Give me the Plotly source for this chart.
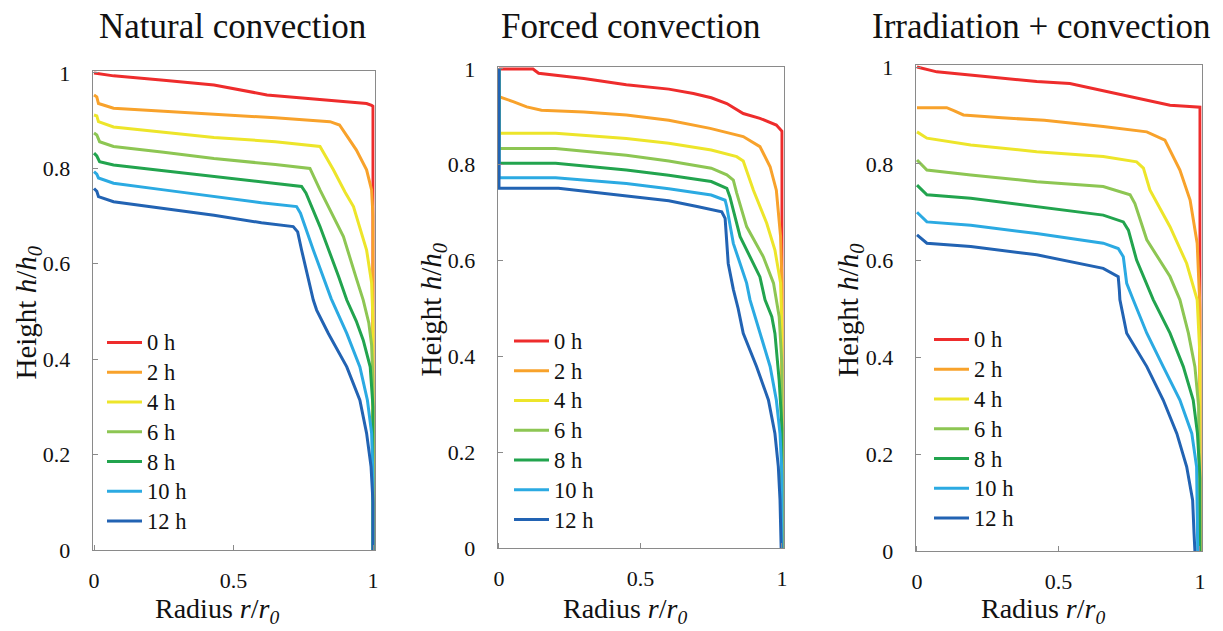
import plotly.graph_objects as go

W, H = 1223, 631
FONT = "Liberation Serif"

labels = ["0 h", "2 h", "4 h", "6 h", "8 h", "10 h", "12 h"]
colors = ["#EE2C2C", "#F8A22B", "#EDE52A", "#8DC653", "#22A44E", "#2BAAE2", "#2263B3"]

# ---------------- Natural convection ----------------
nat_r_0 = [0, 0.07, 0.25, 0.43, 0.62, 0.8, 0.977, 0.995, 1.0, 1.0]
nat_h_0 = [1.0, 0.994, 0.985, 0.975, 0.954, 0.945, 0.936, 0.932, 0.93, 0.0]
nat_r_2 = [0, 0.01, 0.016, 0.07, 0.25, 0.43, 0.65, 0.846, 0.88, 0.91, 0.94, 0.977, 0.995, 1.0, 1.0]
nat_h_2 = [0.954, 0.95, 0.936, 0.926, 0.92, 0.914, 0.906, 0.898, 0.891, 0.865, 0.839, 0.797, 0.755, 0.70, 0.0]
nat_r_4 = [0, 0.01, 0.016, 0.07, 0.25, 0.43, 0.65, 0.81, 0.858, 0.9, 0.93, 0.977, 0.995, 1.0, 1.0]
nat_h_4 = [0.912, 0.91, 0.898, 0.887, 0.876, 0.865, 0.856, 0.846, 0.797, 0.75, 0.72, 0.629, 0.56, 0.48, 0.0]
nat_r_6 = [0, 0.01, 0.02, 0.07, 0.25, 0.43, 0.65, 0.774, 0.81, 0.894, 0.94, 0.965, 0.985, 0.995, 1.0, 1.0]
nat_h_6 = [0.874, 0.87, 0.856, 0.846, 0.834, 0.821, 0.808, 0.80, 0.755, 0.657, 0.57, 0.524, 0.476, 0.43, 0.35, 0.0]
nat_r_8 = [0, 0.01, 0.02, 0.07, 0.25, 0.43, 0.65, 0.744, 0.76, 0.81, 0.877, 0.906, 0.94, 0.965, 0.99, 1.0, 1.0]
nat_h_8 = [0.832, 0.826, 0.814, 0.807, 0.795, 0.783, 0.768, 0.762, 0.748, 0.678, 0.573, 0.524, 0.48, 0.44, 0.384, 0.3, 0.0]
nat_r_10 = [0, 0.01, 0.016, 0.07, 0.25, 0.43, 0.6, 0.726, 0.74, 0.786, 0.85, 0.906, 0.953, 0.98, 0.995, 1.0, 1.0]
nat_h_10 = [0.793, 0.788, 0.78, 0.769, 0.755, 0.741, 0.728, 0.72, 0.706, 0.629, 0.527, 0.454, 0.384, 0.314, 0.245, 0.15, 0.0]
nat_r_12 = [0, 0.01, 0.016, 0.07, 0.25, 0.43, 0.6, 0.714, 0.73, 0.744, 0.786, 0.798, 0.84, 0.906, 0.953, 0.977, 0.993, 1.0, 1.0]
nat_h_12 = [0.758, 0.752, 0.741, 0.730, 0.716, 0.702, 0.686, 0.678, 0.667, 0.629, 0.524, 0.503, 0.454, 0.384, 0.314, 0.245, 0.175, 0.1, 0.0]

# ---------------- Forced convection ----------------
frc_r_0 = [0, 0.12, 0.14, 0.3, 0.45, 0.6, 0.687, 0.75, 0.805, 0.863, 0.922, 0.98, 1.0, 1.0]
frc_h_0 = [1.0, 1.0, 0.991, 0.98, 0.967, 0.958, 0.949, 0.94, 0.928, 0.907, 0.897, 0.883, 0.87, 0.0]
frc_r_2 = [0, 0, 0.05, 0.098, 0.15, 0.3, 0.45, 0.6, 0.746, 0.863, 0.922, 0.958, 0.98, 0.995, 1.0, 1.0]
frc_h_2 = [1.0, 0.942, 0.932, 0.921, 0.914, 0.91, 0.904, 0.893, 0.876, 0.859, 0.838, 0.796, 0.747, 0.65, 0.55, 0.0]
frc_r_4 = [0, 0, 0.2, 0.3, 0.45, 0.6, 0.75, 0.84, 0.863, 0.899, 0.946, 0.975, 0.995, 1.0, 1.0]
frc_h_4 = [1.0, 0.866, 0.866, 0.861, 0.855, 0.845, 0.831, 0.817, 0.808, 0.747, 0.678, 0.622, 0.553, 0.45, 0.0]
frc_r_6 = [0, 0, 0.2, 0.3, 0.45, 0.6, 0.75, 0.805, 0.828, 0.84, 0.875, 0.934, 0.97, 0.99, 1.0, 1.0]
frc_h_6 = [1.0, 0.834, 0.834, 0.829, 0.82, 0.808, 0.793, 0.779, 0.768, 0.741, 0.671, 0.608, 0.553, 0.483, 0.38, 0.0]
frc_r_8 = [0, 0, 0.2, 0.3, 0.45, 0.6, 0.75, 0.805, 0.816, 0.852, 0.922, 0.94, 0.964, 0.975, 0.99, 1.0, 1.0]
frc_h_8 = [1.0, 0.803, 0.803, 0.798, 0.789, 0.778, 0.765, 0.751, 0.733, 0.65, 0.566, 0.518, 0.483, 0.448, 0.35, 0.25, 0.0]
frc_r_10 = [0, 0, 0.2, 0.3, 0.45, 0.6, 0.75, 0.799, 0.805, 0.828, 0.875, 0.887, 0.922, 0.958, 0.98, 0.993, 1.0, 1.0]
frc_h_10 = [1.0, 0.773, 0.773, 0.768, 0.761, 0.75, 0.737, 0.726, 0.712, 0.636, 0.553, 0.518, 0.448, 0.379, 0.309, 0.239, 0.15, 0.0]
frc_r_12 = [0, 0, 0.21, 0.3, 0.45, 0.6, 0.7, 0.787, 0.799, 0.81, 0.828, 0.845, 0.863, 0.91, 0.952, 0.975, 0.987, 0.993, 0.997]
frc_h_12 = [1.0, 0.751, 0.751, 0.745, 0.736, 0.725, 0.713, 0.702, 0.688, 0.594, 0.54, 0.50, 0.448, 0.379, 0.309, 0.239, 0.17, 0.1, 0.0]

# ---------------- Irradiation + convection ----------------
irr_r_0 = [0, 0.07, 0.25, 0.423, 0.54, 0.65, 0.776, 0.894, 0.95, 1.0, 1.0]
irr_h_0 = [1.0, 0.99, 0.98, 0.97, 0.966, 0.952, 0.935, 0.921, 0.919, 0.917, 0.0]
irr_r_2 = [0, 0.105, 0.13, 0.164, 0.3, 0.45, 0.658, 0.812, 0.876, 0.929, 0.965, 0.99, 1.0, 1.0]
irr_h_2 = [0.916, 0.916, 0.91, 0.901, 0.895, 0.89, 0.877, 0.866, 0.849, 0.787, 0.725, 0.636, 0.5, 0.0]
irr_r_4 = [0, 0.035, 0.19, 0.423, 0.658, 0.776, 0.8, 0.823, 0.894, 0.953, 0.99, 1.0, 1.0]
irr_h_4 = [0.866, 0.853, 0.839, 0.825, 0.815, 0.804, 0.791, 0.746, 0.67, 0.594, 0.519, 0.4, 0.0]
irr_r_6 = [0, 0.035, 0.19, 0.423, 0.658, 0.753, 0.77, 0.812, 0.894, 0.929, 0.959, 0.982, 0.995, 1.0]
irr_h_6 = [0.808, 0.787, 0.777, 0.763, 0.753, 0.736, 0.718, 0.643, 0.567, 0.519, 0.45, 0.381, 0.3, 0.0]
irr_r_8 = [0, 0.035, 0.19, 0.423, 0.658, 0.729, 0.747, 0.776, 0.835, 0.894, 0.941, 0.976, 0.991, 1.0, 1.0]
irr_h_8 = [0.756, 0.736, 0.729, 0.711, 0.694, 0.68, 0.663, 0.601, 0.519, 0.45, 0.381, 0.312, 0.243, 0.15, 0.0]
irr_r_10 = [0, 0.035, 0.19, 0.423, 0.658, 0.711, 0.729, 0.741, 0.764, 0.812, 0.87, 0.929, 0.971, 0.988, 0.992]
irr_h_10 = [0.70, 0.68, 0.673, 0.656, 0.636, 0.625, 0.608, 0.553, 0.519, 0.45, 0.381, 0.312, 0.243, 0.174, 0.0]
irr_r_12 = [0, 0.035, 0.19, 0.423, 0.658, 0.711, 0.715, 0.717, 0.741, 0.812, 0.87, 0.918, 0.953, 0.974, 0.979, 0.982]
irr_h_12 = [0.653, 0.636, 0.629, 0.612, 0.584, 0.567, 0.539, 0.519, 0.45, 0.381, 0.312, 0.243, 0.174, 0.105, 0.036, 0.0]

panel_titles = ["Natural convection", "Forced convection", "Irradiation + convection"]
x_ticks = [0, 0.5, 1]
y_ticks = [0, 0.2, 0.4, 0.6, 0.8, 1]

panels = [
    [(nat_r_0, nat_h_0), (nat_r_2, nat_h_2), (nat_r_4, nat_h_4), (nat_r_6, nat_h_6),
     (nat_r_8, nat_h_8), (nat_r_10, nat_h_10), (nat_r_12, nat_h_12)],
    [(frc_r_0, frc_h_0), (frc_r_2, frc_h_2), (frc_r_4, frc_h_4), (frc_r_6, frc_h_6),
     (frc_r_8, frc_h_8), (frc_r_10, frc_h_10), (frc_r_12, frc_h_12)],
    [(irr_r_0, irr_h_0), (irr_r_2, irr_h_2), (irr_r_4, irr_h_4), (irr_r_6, irr_h_6),
     (irr_r_8, irr_h_8), (irr_r_10, irr_h_10), (irr_r_12, irr_h_12)],
]

# pixel geometry of each panel: (x at r=0, x at r=1, y at h=0, y at h=1)
geom = [(94, 373, 550, 73), (499, 782, 548, 69), (917, 1200, 551, 67)]
legend_pos = [(102, 322.5), (509, 321), (929, 319.5)]
title_cx = [232, 631, 1041]
XR = (-0.004, 1.006)
YR = (0.0, 1.005)

fig = go.Figure()
layout = dict(
    width=W, height=H, margin=dict(l=0, r=0, t=0, b=0, autoexpand=False),
    paper_bgcolor="white", plot_bgcolor="white", showlegend=True,
    font=dict(family=FONT, color="#111111"),
)
annotations = []
AX_COLOR = "#8a8a8a"
TXT = "#111111"

for i, (series, geo) in enumerate(zip(panels, geom)):
    x0, x1, yb, yt = geo
    sx = x1 - x0
    sy = yb - yt
    xl = x0 + XR[0] * sx
    xr = x0 + XR[1] * sx
    yl = yb - YR[0] * sy
    yh = yb - YR[1] * sy
    suf = "" if i == 0 else str(i + 1)
    leg = "legend" if i == 0 else f"legend{i + 1}"
    common = dict(showline=True, linecolor=AX_COLOR, linewidth=1.3, mirror=True,
                  ticks="inside", ticklen=5, tickcolor=AX_COLOR, showgrid=False,
                  zeroline=False, automargin=False,
                  tickfont=dict(family=FONT, size=22, color=TXT))
    layout["xaxis" + suf] = dict(domain=[xl / W, xr / W], range=list(XR), anchor="y" + suf,
                                 tickvals=x_ticks, ticklabelstandoff=10, **common)
    layout["yaxis" + suf] = dict(domain=[1 - yl / H, 1 - yh / H], range=list(YR), anchor="x" + suf,
                                 tickvals=y_ticks, ticklabelstandoff=17, **common)
    for j, (r, h) in enumerate(series):
        fig.add_trace(go.Scatter(
            x=r, y=h, mode="lines",
            name=f"<span style='font-size:22.5px'>{labels[j]}</span>",
            line=dict(color=colors[j], width=3),
            xaxis="x" + suf, yaxis="y" + suf, legend=leg))
    lx, ly = legend_pos[i]
    layout[leg] = dict(x=lx / W, y=1 - ly / H, xanchor="left", yanchor="top",
                       bgcolor="rgba(0,0,0,0)", font=dict(family=FONT, size=20.6, color=TXT),
                       tracegroupgap=0, itemwidth=35)
    annotations.append(dict(text=panel_titles[i], x=title_cx[i] / W, y=1 - 26 / H,
                            xref="paper", yref="paper", xanchor="center", yanchor="middle",
                            showarrow=False, font=dict(family=FONT, size=35, color=TXT)))
    annotations.append(dict(text="Height <i>h</i>/<i>h</i><sub><i>0</i></sub>", x=(x0 - 67) / W,
                            y=1 - ((yb + yt) / 2 + 2) / H, xref="paper", yref="paper", textangle=-90,
                            xanchor="center", yanchor="middle", showarrow=False,
                            font=dict(family=FONT, size=29, color=TXT)))
    annotations.append(dict(text="Radius <i>r</i>/<i>r</i><sub><i>0</i></sub>", x=((x0 + x1) / 2 - 16) / W,
                            y=1 - 610 / H, xref="paper", yref="paper",
                            xanchor="center", yanchor="middle", showarrow=False,
                            font=dict(family=FONT, size=28, color=TXT)))

layout["annotations"] = annotations
fig.update_layout(**layout)
fig.write_html("out.html", config={"displayModeBar": False},
               post_script="document.body.style.margin='0';document.body.style.overflow='hidden';")
